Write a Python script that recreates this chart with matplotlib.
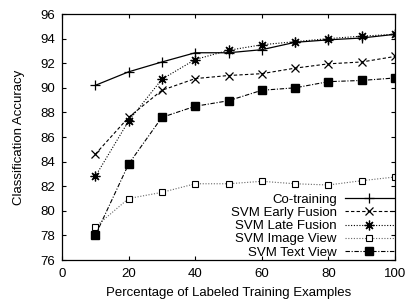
import matplotlib
matplotlib.use('Agg')
import matplotlib.pyplot as plt

plt.rcParams['font.family'] = ['Liberation Sans', 'DejaVu Sans']

pct = [10, 20, 30, 40, 50, 60, 70, 80, 90, 100]
co_training = [90.2, 91.3, 92.1, 92.85, 92.85, 93.1, 93.7, 93.9, 94.05, 94.35]
early_fusion = [84.6, 87.6, 89.8, 90.75, 91.0, 91.15, 91.6, 91.95, 92.1, 92.55]
late_fusion = [82.8, 87.3, 90.7, 92.3, 93.05, 93.5, 93.75, 94.0, 94.2, 94.35]
image_view = [78.7, 81.0, 81.5, 82.2, 82.2, 82.4, 82.2, 82.1, 82.45, 82.75]
text_view = [78.0, 83.8, 87.6, 88.5, 88.95, 89.8, 90.0, 90.5, 90.6, 90.8]

fs = 9.5

fig = plt.figure(figsize=(4.09, 3.02), dpi=100)
ax = fig.add_axes([0.1516, 0.139, 0.8142, 0.8146])

ax.plot(pct, co_training, color='black', lw=0.9, ls='-', marker='+', ms=7, mew=0.9,
        label='Co-training')
ax.plot(pct, early_fusion, color='black', lw=0.8, ls=(0, (3, 2)), marker='x', ms=6, mew=0.9,
        label='SVM Early Fusion')
ax.plot(pct, late_fusion, color='black', lw=0.8, ls=(0, (1, 1.5)), marker=(8, 2, 0), ms=7, mew=0.9,
        label='SVM Late Fusion')
ax.plot(pct, image_view, color='0.4', lw=0.8, ls=(0, (1, 1.5)), marker='s', ms=5, mew=0.8,
        mfc='white', mec='black', label='SVM Image View')
ax.plot(pct, text_view, color='black', lw=0.8, ls=(0, (4, 1.5, 1, 1.5)), marker='s', ms=5.5,
        mfc='black', mec='black', label='SVM Text View')

ax.set_xlim(0, 100)
ax.set_ylim(76, 96)
ax.set_xticks(range(0, 101, 20))
ax.set_yticks(range(76, 97, 2))
ax.tick_params(direction='in', top=True, right=True, labelsize=fs, length=3)
ax.tick_params(axis='x', pad=6)
ax.tick_params(axis='y', pad=5)
for s in ax.spines.values():
    s.set_linewidth(0.9)

ax.set_xlabel('Percentage of Labeled Training Examples', fontsize=fs, labelpad=5)
ax.set_ylabel('Classification Accuracy', fontsize=fs, labelpad=11)

leg = ax.legend(loc='lower right', bbox_to_anchor=(1.0, 0.0), frameon=False, markerfirst=False,
                fontsize=fs, handlelength=3.7, handletextpad=0.6, labelspacing=0.08,
                borderpad=0.1, borderaxespad=0.0)

fig.savefig('out.png', dpi=100)
